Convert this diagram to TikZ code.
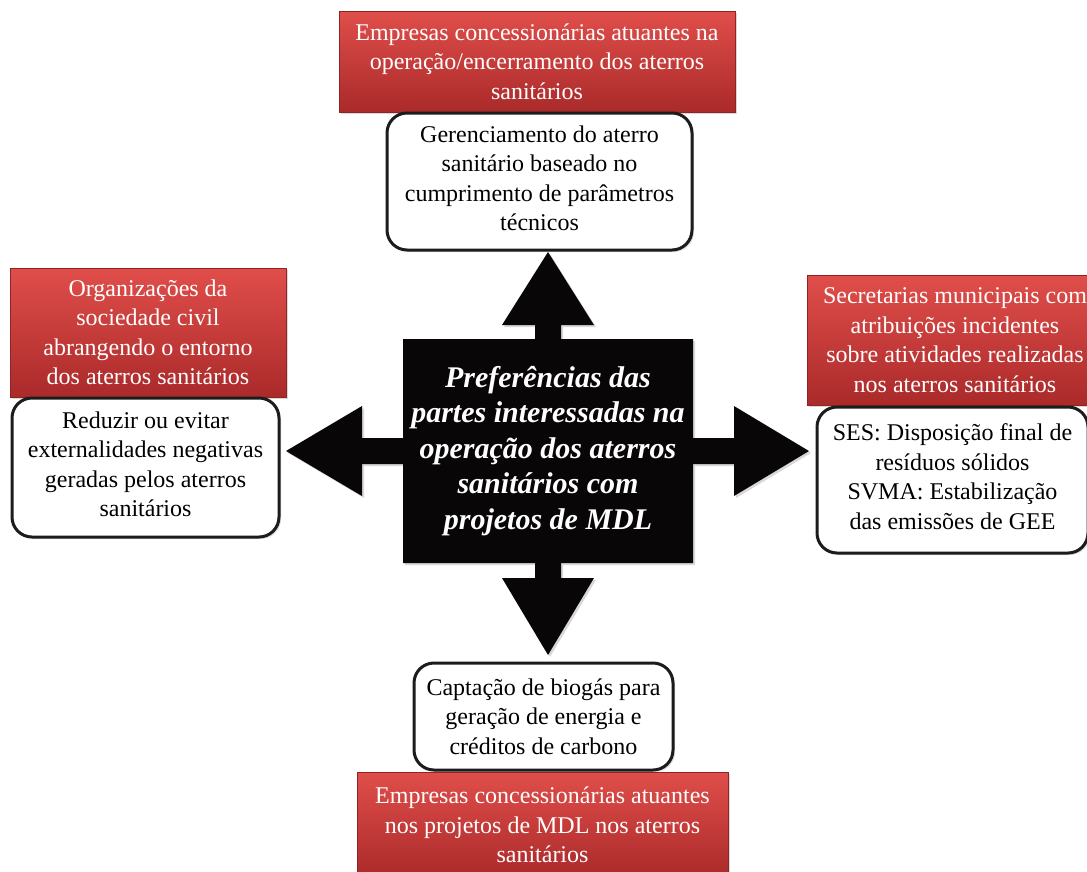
\documentclass[tikz,border=0pt]{standalone}
\usepackage{fontspec}
\setmainfont{Liberation Serif}
\usetikzlibrary{shadows}
\definecolor{redtop}{RGB}{224,78,74}
\definecolor{redbot}{RGB}{170,42,42}
\definecolor{edgegray}{RGB}{28,28,28}
\definecolor{ink}{RGB}{8,6,6}
\begin{document}
\begin{tikzpicture}[x=1pt,y=-1pt,
  stake/.style={rectangle, draw=redbot!85!black, line width=0.6pt,
    top color=redtop, bottom color=redbot, text=white, align=center,
    font=\fontsize{24}{29.5}\selectfont, inner sep=0pt,
    drop shadow={opacity=0.3, shadow xshift=2pt, shadow yshift=-2pt}},
  pref/.style={rectangle, rounded corners=20pt, draw=edgegray, line width=3pt,
    fill=white, align=center, font=\fontsize{24}{29.5}\selectfont, inner sep=0pt,
    drop shadow={opacity=0.25, shadow xshift=2pt, shadow yshift=-2pt}},
  raised/.style={text depth=6.5pt},
  hub/.style={rectangle, fill=ink, text=white, align=center,
    font=\fontsize{30}{35.5}\selectfont\bfseries\itshape, inner sep=0pt},
  arrowshape/.style={fill=ink, drop shadow={opacity=0.3, shadow xshift=2pt, shadow yshift=-2pt}}
]
\clip (0,0) rectangle (1087,871);
\fill[white] (0,0) rectangle (1087,871);

% central four-way arrow
\path[arrowshape] (403,339) -- (535,339) -- (535,325) -- (502,325) -- (548,252) -- (594,325) -- (561,325) -- (561,339)
  -- (693,339) -- (693,438) -- (734,438) -- (734,406) -- (809,451) -- (734,496) -- (734,464) -- (693,464)
  -- (693,563) -- (561,563) -- (561,578) -- (594,578) -- (548,655) -- (502,578) -- (535,578) -- (535,563)
  -- (403,563) -- (403,464) -- (362,464) -- (362,496) -- (286,451) -- (362,406) -- (362,438) -- (403,438) -- cycle;
\node[hub, minimum width=290pt, minimum height=224pt] (hub) at (548,451)
  {Preferências das\\partes interessadas na\\operação dos aterros\\sanitários com\\projetos de MDL};

% top
\node[stake, minimum width=396pt, minimum height=101pt] (stTop) at (537,61.5)
  {Empresas concessionárias atuantes na\\operação/encerramento dos aterros\\sanitários};
\node[pref, raised, minimum width=305pt, minimum height=137pt] (prTop) at (539.5,181.5)
  {Gerenciamento do aterro\\sanitário baseado no\\cumprimento de parâmetros\\técnicos};

% left
\node[stake, minimum width=276pt, minimum height=129pt] (stLeft) at (148,332.5)
  {Organizações da\\sociedade civil\\abrangendo o entorno\\dos aterros sanitários};
\node[pref, raised, minimum width=267pt, minimum height=139pt] (prLeft) at (145.5,467.5)
  {Reduzir ou evitar\\externalidades negativas\\geradas pelos aterros\\sanitários};

% right
\node[stake, minimum width=296pt, minimum height=130pt] (stRight) at (955,340)
  {Secretarias municipais com\\atribuições incidentes\\sobre atividades realizadas\\nos aterros sanitários};
\node[pref, raised, minimum width=271pt, minimum height=146pt] (prRight) at (952.5,480)
  {SES: Disposição final de\\resíduos sólidos\\SVMA: Estabilização\\das emissões de GEE};

% bottom
\node[pref, minimum width=259pt, minimum height=107pt] (prBottom) at (543.5,716.5)
  {Captação de biogás para\\geração de energia e\\créditos de carbono};
\node[stake, minimum width=371pt, minimum height=106pt] (stBottom) at (542.5,825)
  {Empresas concessionárias atuantes\\nos projetos de MDL nos aterros\\sanitários};
\end{tikzpicture}
\end{document}
